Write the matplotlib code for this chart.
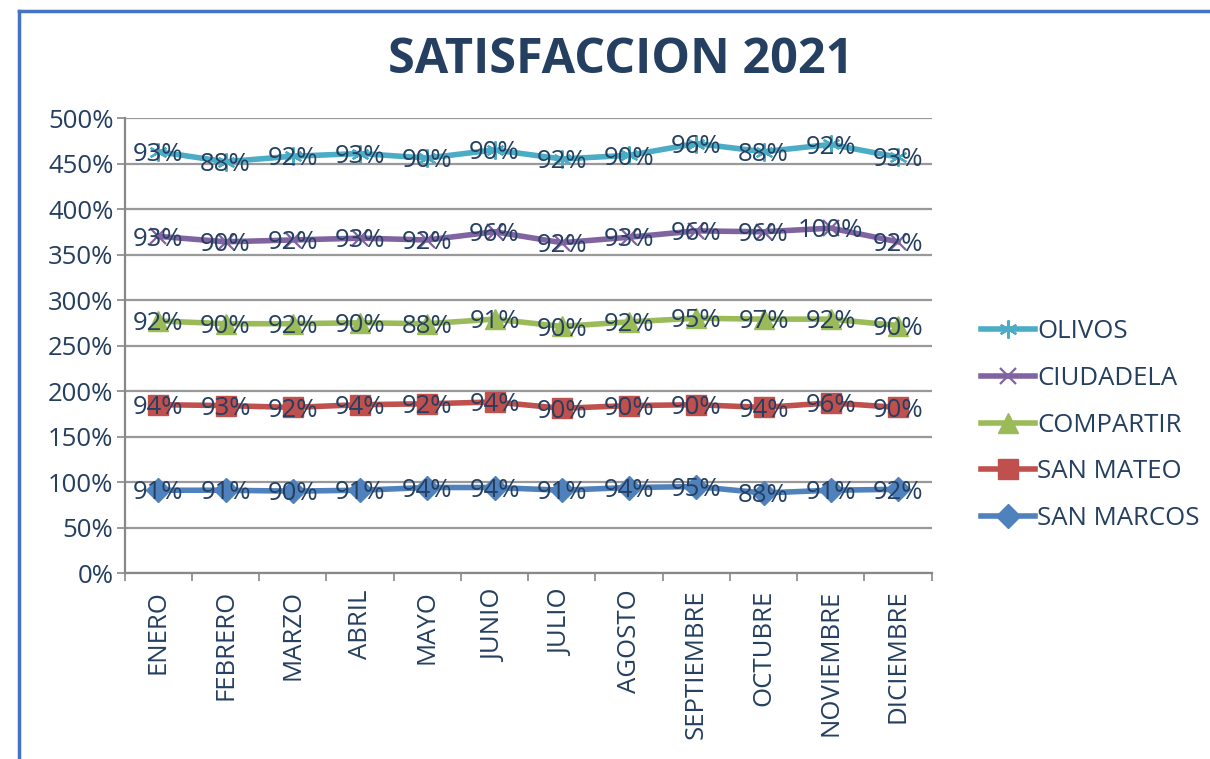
import numpy as np
import matplotlib
matplotlib.use("Agg")
import matplotlib.pyplot as plt
from matplotlib.lines import Line2D

months = ["ENERO", "FEBRERO", "MARZO", "ABRIL", "MAYO", "JUNIO", "JULIO",
          "AGOSTO", "SEPTIEMBRE", "OCTUBRE", "NOVIEMBRE", "DICIEMBRE"]

# individual values (%) per series, stacked bottom to top as in the chart
san_marcos = [91, 91, 90, 91, 94, 94, 91, 94, 95, 88, 91, 92]
san_mateo = [94, 93, 92, 94, 92, 94, 90, 90, 90, 94, 96, 90]
compartir = [92, 90, 92, 90, 88, 91, 90, 92, 95, 97, 92, 90]
ciudadela = [93, 90, 92, 93, 92, 96, 92, 93, 96, 96, 100, 92]
olivos = [93, 88, 92, 93, 90, 90, 92, 90, 96, 88, 92, 93]

series = [
    ("SAN MARCOS", san_marcos, "#4F81BD", "D", 12),
    ("SAN MATEO", san_mateo, "#C0504D", "s", 14),
    ("COMPARTIR", compartir, "#9BBB59", "^", 14),
    ("CIUDADELA", ciudadela, "#8064A2", "x", 11),
    ("OLIVOS", olivos, "#4BACC6", (6, 2, 0), 13),
]

plt.rcParams["font.family"] = ["Open Sans", "DejaVu Sans"]
navy = "#243F60"
fs = 18.5

fig = plt.figure(figsize=(12.1, 7.59), dpi=100)
ax = fig.add_axes([0.103, 0.245, 0.667, 0.5995])

x = np.arange(len(months))
base = np.zeros(len(months))
handles = []
for name, vals, color, marker, ms in series:
    vals = np.array(vals, dtype=float)
    top = base + vals
    thin = marker in ("x", (6, 2, 0))
    ax.plot(x, top, color=color, lw=4, marker=marker, ms=ms,
            mec=color, mew=1.6 if thin else 1, zorder=3)
    for xi, yi, v in zip(x, top, vals):
        ax.text(xi, yi - 3, f"{int(v)}%", ha="center", va="center",
                fontsize=fs, color=navy, zorder=4)
    handles.append(Line2D([], [], color=color, lw=4, marker=marker, ms=ms,
                          mec=color, mew=1.6 if thin else 1, label=name))
    base = top

ax.set_xlim(-0.5, 11.5)
ax.set_ylim(0, 500)
ax.set_yticks(np.arange(0, 501, 50))
ax.set_yticklabels([f"{v}%" for v in range(0, 501, 50)], fontsize=fs, color=navy)
ax.set_xticks(x)
ax.set_xticklabels(months, rotation=90, fontsize=fs, color=navy)
ax.set_xticks(np.arange(-0.5, 12, 1), minor=True)
ax.tick_params(axis="x", which="major", length=0, pad=12)
ax.tick_params(axis="x", which="minor", length=6, color="#888888", width=1.2)
ax.tick_params(axis="y", length=6, color="#888888", width=1.2, pad=2)
ax.grid(axis="y", color="#999999", lw=1.6)
ax.set_axisbelow(True)
for side in ("top", "right"):
    ax.spines[side].set_visible(False)
for side in ("left", "bottom"):
    ax.spines[side].set_color("#888888")
    ax.spines[side].set_linewidth(1.6)

leg = fig.legend(handles=handles[::-1], loc="center left",
                 bbox_to_anchor=(0.802, 0.44), frameon=False, fontsize=fs,
                 handlelength=2.1, labelspacing=0.85, handletextpad=0.1,
                 borderaxespad=0)
for t in leg.get_texts():
    t.set_color(navy)

fig.text(0.513, 0.92, "SATISFACCION 2021", ha="center", va="center",
         fontsize=35, fontweight="bold", color=navy)

# blue chart-area border (top and left edges visible in the crop)
fig.add_artist(Line2D([0.0155, 0.0155], [0.0, 0.986], color="#4472C4", lw=2.5,
                      transform=fig.transFigure))
fig.add_artist(Line2D([0.0155, 1.0], [0.986, 0.986], color="#4472C4", lw=2.5,
                      transform=fig.transFigure))

fig.savefig("out.png", dpi=100, facecolor="white")
